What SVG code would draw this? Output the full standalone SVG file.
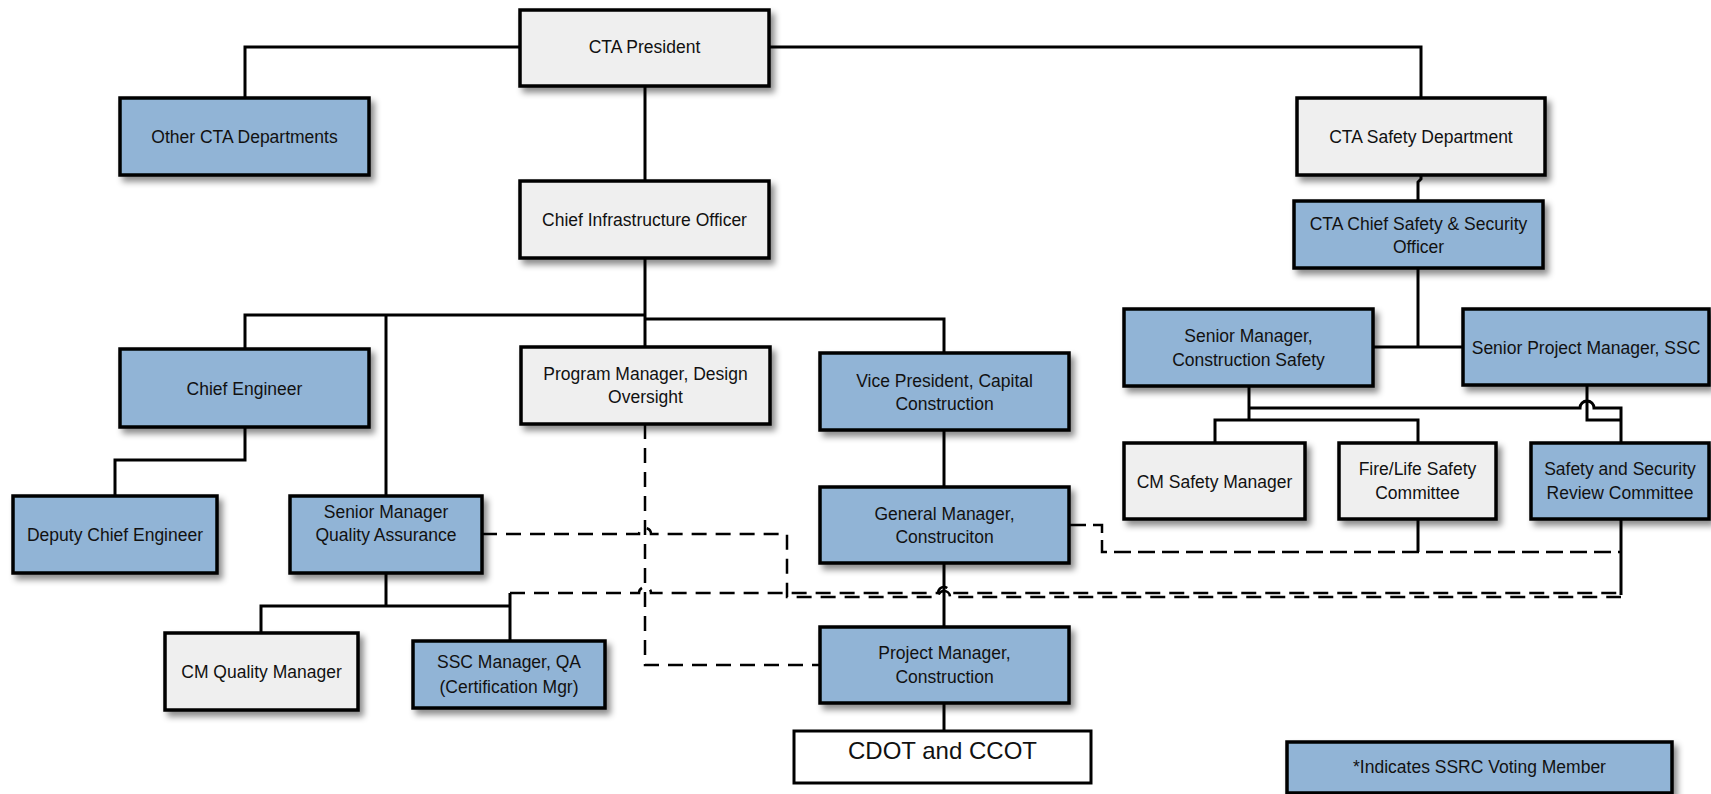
<svg xmlns="http://www.w3.org/2000/svg" width="1711" height="794" viewBox="0 0 1711 794">
  <defs>
    <filter id="shadow" x="-10%" y="-10%" width="130%" height="140%">
      <feDropShadow dx="4" dy="5" stdDeviation="3" flood-color="#000" flood-opacity="0.45"/>
    </filter>
    <style>
      .box { stroke: #000; stroke-width: 3.5; filter: url(#shadow); }
      .blue { fill: #91b4d6; }
      .gray { fill: #efefef; }
      .white { fill: #fff; }
      .lbl { font-family: "Liberation Sans", Arial, sans-serif; font-size: 17.5px; fill: #111; text-anchor: middle; }
      .big { font-size: 24px; }
      .line { fill: none; stroke: #000; stroke-width: 3; }
      .dash { fill: none; stroke: #000; stroke-width: 2.5; stroke-dasharray: 15 9; }
      .dash2 { fill: none; stroke: #000; stroke-width: 2.5; stroke-dasharray: 17 7; }
    </style>
  </defs>
  <rect width="1711" height="794" fill="#fff"/>

  <!-- reporting lines -->
  <g id="connectors">
    <path class="line" d="M520,47 H245 V98"/>
    <path class="line" d="M769,47 H1421 V98"/>
    <path class="line" d="M645,86 V181"/>
    <path class="line" d="M645,258 V318" stroke-width="5"/>
    <path class="line" d="M245,349 V315 H385"/>
    <path class="line" d="M385,315 H645" stroke-width="6"/>
    <path class="line" d="M386,315 V496"/>
    <path class="line" d="M645,319 H944 V353"/>
    <path class="line" d="M645,318 V347"/>
    <path class="line" d="M245,427 V460 H115 V496"/>
    <path class="line" d="M386,573 V606"/>
    <path class="line" d="M261,633 V606 H510"/>
    <path class="line" d="M510,593 V641"/>
    <path class="line" d="M944,430 V487"/>
    <path class="line" d="M944,563 V627"/>
    <path class="line" d="M944,703 V731"/>
    <path class="line" d="M1421,175 V179 L1418,182 V201"/>
    <path class="line" d="M1418,268 V347"/>
    <path class="line" d="M1373,347 H1463"/>
    <path class="line" d="M1249,386 V420"/>
    <path class="line" d="M1215,443 V420 H1418 V443"/>
    <path class="line" d="M1249,408 H1580 A7,7 0 0 1 1594,408 H1621 V443"/>
    <path class="line" d="M1587,385 V420 H1621"/>
    <path class="line" d="M1418,519 V552" stroke-width="2"/>
    <path class="line" d="M1621,519 V595" stroke-width="2.5"/>

    <!-- dotted-line relationships -->
    <path class="dash" d="M645,424 V665 H819"/>
    <path class="dash" d="M482,534 H639 A6,6 0 0 1 651,534 H787 V597 H938 A6,6 0 0 1 950,597 H1621"/>
    <path class="dash" d="M510,593 H639 A6,6 0 0 1 651,593 H938 A6,6 0 0 1 950,593 H1621"/>
    <path class="dash2" d="M1069,525 H1102 V552 H1621"/>
  </g>

  <g id="cta-president">
    <rect class="box gray" x="520" y="10" width="249" height="76"/>
    <text class="lbl" x="644.5" y="53">CTA President</text>
  </g>
  <g id="other-cta-departments">
    <rect class="box blue" x="120" y="98" width="249" height="77"/>
    <text class="lbl" x="244.5" y="143">Other CTA Departments</text>
  </g>
  <g id="chief-infrastructure-officer">
    <rect class="box gray" x="520" y="181" width="249" height="77"/>
    <text class="lbl" x="644.5" y="226">Chief Infrastructure Officer</text>
  </g>
  <g id="cta-safety-department">
    <rect class="box gray" x="1297" y="98" width="248" height="77"/>
    <text class="lbl" x="1421" y="143">CTA Safety Department</text>
  </g>
  <g id="chief-safety-officer">
    <rect class="box blue" x="1294" y="201" width="249" height="67"/>
    <text class="lbl" x="1418.5" y="230">CTA Chief Safety &amp; Security</text>
    <text class="lbl" x="1418.5" y="253">Officer</text>
  </g>
  <g id="chief-engineer">
    <rect class="box blue" x="120" y="349" width="249" height="78"/>
    <text class="lbl" x="244.5" y="395">Chief Engineer</text>
  </g>
  <g id="deputy-chief-engineer">
    <rect class="box blue" x="13" y="496" width="204" height="77"/>
    <text class="lbl" x="115" y="541">Deputy Chief Engineer</text>
  </g>
  <g id="senior-manager-qa">
    <rect class="box blue" x="290" y="496" width="192" height="77"/>
    <text class="lbl" x="386" y="518">Senior Manager</text>
    <text class="lbl" x="386" y="541">Quality Assurance</text>
  </g>
  <g id="cm-quality-manager">
    <rect class="box gray" x="165" y="633" width="193" height="77"/>
    <text class="lbl" x="261.5" y="678">CM Quality Manager</text>
  </g>
  <g id="ssc-manager-qa">
    <rect class="box blue" x="413" y="641" width="192" height="67"/>
    <text class="lbl" x="509" y="668">SSC Manager, QA</text>
    <text class="lbl" x="509" y="693">(Certification Mgr)</text>
  </g>
  <g id="program-manager-design">
    <rect class="box gray" x="521" y="347" width="249" height="77"/>
    <text class="lbl" x="645.5" y="380">Program Manager, Design</text>
    <text class="lbl" x="645.5" y="403">Oversight</text>
  </g>
  <g id="vp-capital-construction">
    <rect class="box blue" x="820" y="353" width="249" height="77"/>
    <text class="lbl" x="944.5" y="387">Vice President, Capital</text>
    <text class="lbl" x="944.5" y="410">Construction</text>
  </g>
  <g id="general-manager-construction">
    <rect class="box blue" x="820" y="487" width="249" height="76"/>
    <text class="lbl" x="944.5" y="520">General Manager,</text>
    <text class="lbl" x="944.5" y="543">Construciton</text>
  </g>
  <g id="project-manager-construction">
    <rect class="box blue" x="820" y="627" width="249" height="76"/>
    <text class="lbl" x="944.5" y="659">Project Manager,</text>
    <text class="lbl" x="944.5" y="683">Construction</text>
  </g>
  <g id="cdot-ccot">
    <rect x="794" y="731" width="297" height="52" fill="#fff" stroke="#000" stroke-width="3"/>
    <text class="lbl big" x="942.5" y="759">CDOT and CCOT</text>
  </g>
  <g id="senior-manager-construction-safety">
    <rect class="box blue" x="1124" y="309" width="249" height="77"/>
    <text class="lbl" x="1248.5" y="342">Senior Manager,</text>
    <text class="lbl" x="1248.5" y="366">Construction Safety</text>
  </g>
  <g id="senior-project-manager-ssc">
    <rect class="box blue" x="1463" y="309" width="246" height="76"/>
    <text class="lbl" x="1586" y="354">Senior Project Manager, SSC</text>
  </g>
  <g id="cm-safety-manager">
    <rect class="box gray" x="1124" y="443" width="181" height="76"/>
    <text class="lbl" x="1214.5" y="488">CM Safety Manager</text>
  </g>
  <g id="fire-life-safety-committee">
    <rect class="box gray" x="1339" y="443" width="157" height="76"/>
    <text class="lbl" x="1417.5" y="475">Fire/Life Safety</text>
    <text class="lbl" x="1417.5" y="499">Committee</text>
  </g>
  <g id="safety-security-review-committee">
    <rect class="box blue" x="1531" y="443" width="178" height="76"/>
    <text class="lbl" x="1620" y="475">Safety and Security</text>
    <text class="lbl" x="1620" y="499">Review Committee</text>
  </g>
  <g id="legend">
    <rect class="box blue" x="1287" y="742" width="385" height="51"/>
    <text class="lbl" x="1479.5" y="773">*Indicates SSRC Voting Member</text>
  </g>
</svg>
